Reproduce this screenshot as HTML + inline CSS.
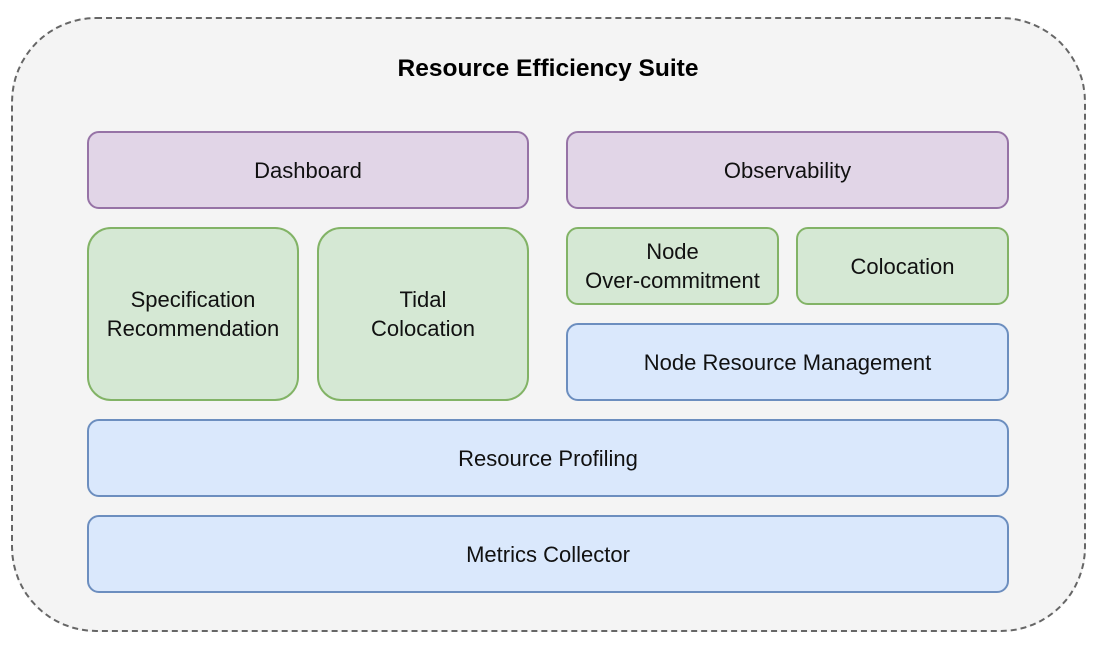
<!DOCTYPE html><html><head><style>
body{margin:0;width:1108px;height:647px;background:#fff;position:relative;font-family:"Liberation Sans",Arial,sans-serif;overflow:hidden}
.o{position:absolute;left:11px;top:17px;width:1071px;height:611px;border:2px dashed #666;border-radius:85px;background:#f4f4f4}
.t{position:absolute;left:0;width:1096px;top:55px;text-align:center;font-weight:bold;font-size:24.5px;color:#000}
.b{position:absolute;box-sizing:border-box;border:2px solid;border-radius:12px;display:flex;align-items:center;justify-content:center;text-align:center;font-size:22px;line-height:29px;color:#111}
.p{background:#e1d5e7;border-color:#9673a6}
.g{background:#d5e8d4;border-color:#82b366}
.l{background:#dae8fc;border-color:#6c8ebf}
</style></head><body>
<div class="o"></div>
<div class="t">Resource Efficiency Suite</div>
<div class="b p" style="left:87px;top:131px;width:442px;height:78px">Dashboard</div>
<div class="b p" style="left:566px;top:131px;width:443px;height:78px">Observability</div>
<div class="b g" style="left:87px;top:227px;width:212px;height:174px;border-radius:24px">Specification<br>Recommendation</div>
<div class="b g" style="left:317px;top:227px;width:212px;height:174px;border-radius:24px">Tidal<br>Colocation</div>
<div class="b g" style="left:566px;top:227px;width:213px;height:78px">Node<br>Over-commitment</div>
<div class="b g" style="left:796px;top:227px;width:213px;height:78px">Colocation</div>
<div class="b l" style="left:566px;top:323px;width:443px;height:78px">Node Resource Management</div>
<div class="b l" style="left:87px;top:419px;width:922px;height:78px">Resource Profiling</div>
<div class="b l" style="left:87px;top:515px;width:922px;height:78px">Metrics Collector</div>
</body></html>
